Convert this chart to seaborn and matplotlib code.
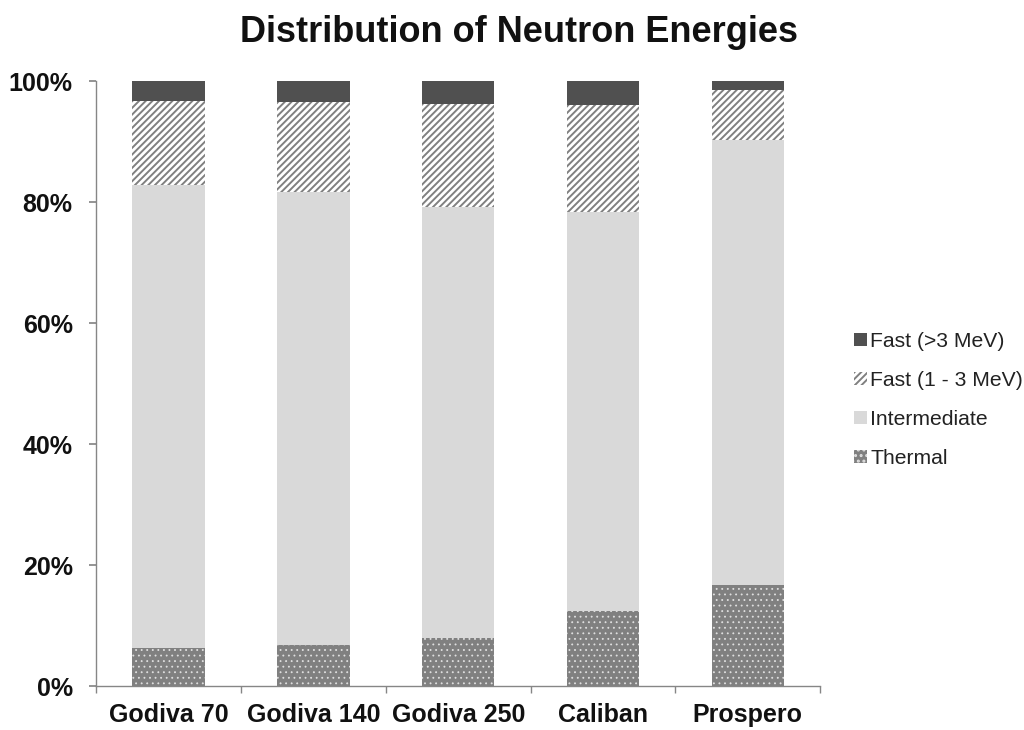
import numpy as np
import pandas as pd
import matplotlib
matplotlib.use("Agg")
import matplotlib.pyplot as plt
import seaborn as sns
from matplotlib.patches import Patch
from matplotlib.ticker import PercentFormatter, FixedLocator

sns.set_theme(style="white")
plt.rcParams['font.family'] = ['Liberation Sans', 'DejaVu Sans']
plt.rcParams['hatch.linewidth'] = 1.4

categories = ["Godiva 70", "Godiva 140", "Godiva 250", "Caliban", "Prospero"]
thermal = [6.3, 6.8, 7.9, 12.4, 16.7]
intermediate = [76.5, 74.9, 71.3, 66.0, 73.5]
fast_1_3 = [13.9, 14.9, 17.0, 17.6, 8.3]
fast_gt3 = [3.3, 3.4, 3.8, 4.0, 1.5]
series_names = ["Thermal", "Intermediate", "Fast (1 - 3 MeV)", "Fast (>3 MeV)"]

layers = np.array([thermal, intermediate, fast_1_3, fast_gt3]) / 100.0
cum = np.cumsum(layers, axis=0)

styles = {
    "Thermal": dict(fc="#808080", hatch="...", hc="#e0e0e0", hlw=0.6),
    "Intermediate": dict(fc="#d9d9d9", hatch=None, hc="#d9d9d9", hlw=1.0),
    "Fast (1 - 3 MeV)": dict(fc="white", hatch="/////", hc="#808080", hlw=1.4),
    "Fast (>3 MeV)": dict(fc="#505050", hatch=None, hc="#505050", hlw=1.0),
}

fig = plt.figure(figsize=(10.24, 7.3), dpi=100)
ax = fig.add_axes([0.094, 0.060, 0.707, 0.829])

def style_patch(p, st):
    p.set_facecolor(st["fc"])
    if st["hatch"]:
        p.set_hatch(st["hatch"])
        p.set_edgecolor(st["hc"])
        if hasattr(p, "set_hatch_linewidth"):
            p.set_hatch_linewidth(st["hlw"])
    else:
        p.set_edgecolor("none")
    p.set_linewidth(0)

for i in range(len(series_names) - 1, -1, -1):
    name = series_names[i]
    st = styles[name]
    df = pd.DataFrame({"cat": categories, "val": cum[i]})
    n_before = len(ax.patches)
    sns.barplot(data=df, x="cat", y="val", color=st["fc"], width=0.5,
                saturation=1, ax=ax, errorbar=None)
    for p in ax.patches[n_before:]:
        style_patch(p, st)

ax.set_ylim(0, 1)
ax.set_xlim(-0.5, 4.5)
ax.yaxis.set_major_formatter(PercentFormatter(1.0, decimals=0))
ax.set_yticks([0, 0.2, 0.4, 0.6, 0.8, 1.0])
ax.set_xlabel("")
ax.set_ylabel("")

for s in ["top", "right"]:
    ax.spines[s].set_visible(False)
for s in ["left", "bottom"]:
    ax.spines[s].set_color("#868686")
    ax.spines[s].set_linewidth(1.0)

ax.tick_params(axis="x", which="major", length=0, pad=12, labelsize=18)
ax.xaxis.set_minor_locator(FixedLocator([-0.5, 0.5, 1.5, 2.5, 3.5, 4.5]))
ax.tick_params(axis="x", which="minor", length=5, color="#868686", direction="out", bottom=True)
ax.tick_params(axis="y", which="major", length=5, color="#868686", direction="out", left=True,
               labelsize=18, pad=12)
for lab in ax.get_xticklabels() + ax.get_yticklabels():
    lab.set_fontweight("bold")
    lab.set_color("#111111")

fig.text(0.507, 1 - 33 / 730, "Distribution of Neutron Energies", fontsize=26,
         fontweight="bold", ha="center", va="center", color="#111111")

handles = []
for name in reversed(series_names):
    st = styles[name]
    h = Patch(facecolor=st["fc"], edgecolor=st["hc"] if st["hatch"] else "none",
              hatch=st["hatch"], linewidth=0, label=name)
    handles.append(h)
leg = fig.legend(handles=handles, loc="center left", bbox_to_anchor=(0.826, 0.452),
                 frameon=False, fontsize=15.2, handlelength=0.6, handleheight=0.6,
                 handletextpad=0.15, labelspacing=0.95, borderaxespad=0)
for t in leg.get_texts():
    t.set_color("#222222")

fig.savefig("out.png", dpi=100)
